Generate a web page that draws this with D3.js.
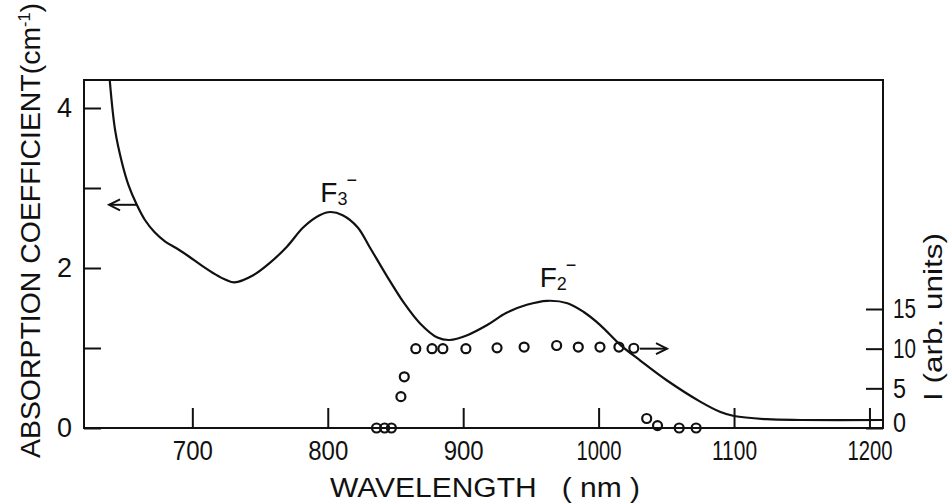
<!DOCTYPE html>
<html>
<head>
<meta charset="utf-8">
<script src="https://cdn.jsdelivr.net/npm/d3@7"></script>
<style>
  html, body { margin: 0; padding: 0; background: #fff; }
  svg text { font-family: "Liberation Sans", "DejaVu Sans", sans-serif; fill: #111; }
</style>
</head>
<body>
<svg id="chart" width="949" height="504"></svg>
<script>
// ---- data ----
const curveNm  = [639,643,648,653,659,665,672,680,688,697,707,717,725,731,745,757,770,782,794,802,811,822,831,844,856,868,881,890,903,918,932,947,962,977,989,1001,1016,1031,1050,1075,1090,1100,1124,1149,1210];
const curveAbs = [4.35,3.72,3.32,3.03,2.79,2.60,2.45,2.33,2.25,2.15,2.03,1.92,1.85,1.82,1.91,2.06,2.27,2.51,2.66,2.70,2.66,2.51,2.26,1.89,1.57,1.31,1.13,1.10,1.16,1.29,1.44,1.54,1.59,1.56,1.45,1.29,1.04,0.84,0.60,0.33,0.20,0.15,0.11,0.10,0.10];

const circNm = [836,842,847,854,856.5,865,877,885,902,925,945,969,985,1001,1015,1026,1035.5,1043.5,1059.5,1072];
const circI  = [0,0,0,3.95,6.45,10,10,10,10,10.1,10.2,10.4,10.2,10.2,10.2,10.05,1.2,0.3,0,0];

const xTicks = [700,800,900,1000,1100,1200];
const yTicks = [0,1,2,3,4];
const yTickLabels = [0,2,4];
const iTicks = [0,5,10,15];

// ---- layout ----
const svg = d3.select("#chart");
const L = 84, R = 883, T = 80, B = 428;

const x  = d3.scaleLinear().domain([620,1210]).range([L,R]);
const y  = d3.scaleLinear().domain([0,4]).range([B,108]);
const yI = d3.scaleLinear().domain([0,15]).range([B,309]);

// frame
svg.append("rect").attr("x",L).attr("y",T).attr("width",R-L).attr("height",B-T)
  .attr("fill","none").attr("stroke","#111").attr("stroke-width",2);

// bottom axis
const gx = svg.append("g").attr("transform",`translate(0,${B})`)
  .call(d3.axisBottom(x).tickValues(xTicks).tickFormat(d3.format("d"))
    .tickSizeInner(-20).tickSizeOuter(0).tickPadding(12));
// left axis
const gy = svg.append("g").attr("transform",`translate(${L},0)`)
  .call(d3.axisLeft(y).tickValues(yTicks).tickSizeInner(-17).tickSizeOuter(0).tickPadding(12)
    .tickFormat(d => yTickLabels.includes(d) ? d : ""));
// right axis
const gr = svg.append("g").attr("transform",`translate(${R},0)`)
  .call(d3.axisRight(yI).tickValues(iTicks).tickSizeInner(-17).tickSizeOuter(0).tickPadding(10));

[gx,gy,gr].forEach(g => {
  g.select(".domain").remove();
  g.selectAll(".tick line").attr("stroke","#111").attr("stroke-width",2);
  g.selectAll(".tick text").attr("font-size",28).attr("fill","#111")
    .style("font-family",'"Liberation Sans", "DejaVu Sans", sans-serif');
});
// narrow lettering like the original stencil digits
gx.selectAll(".tick text")
  .attr("textLength", d => String(d).length === 4 ? 45 : 40)
  .attr("lengthAdjust","spacingAndGlyphs");
gy.selectAll(".tick text")
  .attr("textLength", 15).attr("lengthAdjust","spacingAndGlyphs");
gr.selectAll(".tick text")
  .attr("textLength", d => String(d).length === 2 ? 23 : 13)
  .attr("lengthAdjust","spacingAndGlyphs")
  .attr("dy", d => d === 0 ? "0.12em" : "0.32em");

// absorption curve
const line = d3.line().x((d,i)=>x(curveNm[i])).y((d,i)=>y(curveAbs[i])).curve(d3.curveCatmullRom.alpha(0.5));
svg.append("path").datum(curveNm).attr("d",line)
  .attr("fill","none").attr("stroke","#111").attr("stroke-width",2.2);

// emission circles
svg.append("g").selectAll("circle").data(circNm).join("circle")
  .attr("cx",(d)=>x(d)).attr("cy",(d,i)=>yI(circI[i])).attr("r",4.5)
  .attr("fill","none").attr("stroke","#111").attr("stroke-width",2.2);

// arrows
function arrow(x1,y1,x2,y2){
  svg.append("line").attr("x1",x1).attr("y1",y1).attr("x2",x2).attr("y2",y2)
    .attr("stroke","#111").attr("stroke-width",2);
  const dir = Math.sign(x2-x1);
  svg.append("path")
    .attr("d",`M${x2-dir*11},${y2-5.5}L${x2},${y2}L${x2-dir*11},${y2+5.5}`)
    .attr("fill","none").attr("stroke","#111").attr("stroke-width",2);
}
arrow(x(659), y(2.79), x(638.5), y(2.79));
arrow(x(1030.5), yI(10), x(1050.5), yI(10));

// peak labels
function peakLabel(nm, val, sub){
  const t = svg.append("text").attr("x",x(nm)).attr("y",y(val)).attr("font-size",28);
  t.append("tspan").text("F");
  t.append("tspan").attr("font-size",18).attr("dy",3).text(sub);
  t.append("tspan").attr("font-size",18).attr("dy",-19).attr("dx",-1).text("−");
}
peakLabel(794.5, 2.825, "3");
peakLabel(956.5, 1.76, "2");

// axis titles
svg.append("text").attr("x",330).attr("y",497).attr("font-size",27)
  .attr("textLength",310).attr("lengthAdjust","spacingAndGlyphs")
  .style("white-space","pre").text("WAVELENGTH   ( nm )");

const yt = svg.append("text").attr("transform","translate(40,458) rotate(-90)")
  .attr("font-size",28).attr("textLength",455).attr("lengthAdjust","spacingAndGlyphs");
yt.append("tspan").text("ABSORPTION COEFFICIENT(cm");
yt.append("tspan").attr("font-size",16).attr("dy",-10).text("-1");
yt.append("tspan").attr("dy",10).text(")");

svg.append("text").attr("transform","translate(942,401) rotate(-90)")
  .attr("font-size",25).attr("textLength",168).attr("lengthAdjust","spacingAndGlyphs")
  .style("white-space","pre").text("I (arb. units)");
</script>
</body>
</html>
